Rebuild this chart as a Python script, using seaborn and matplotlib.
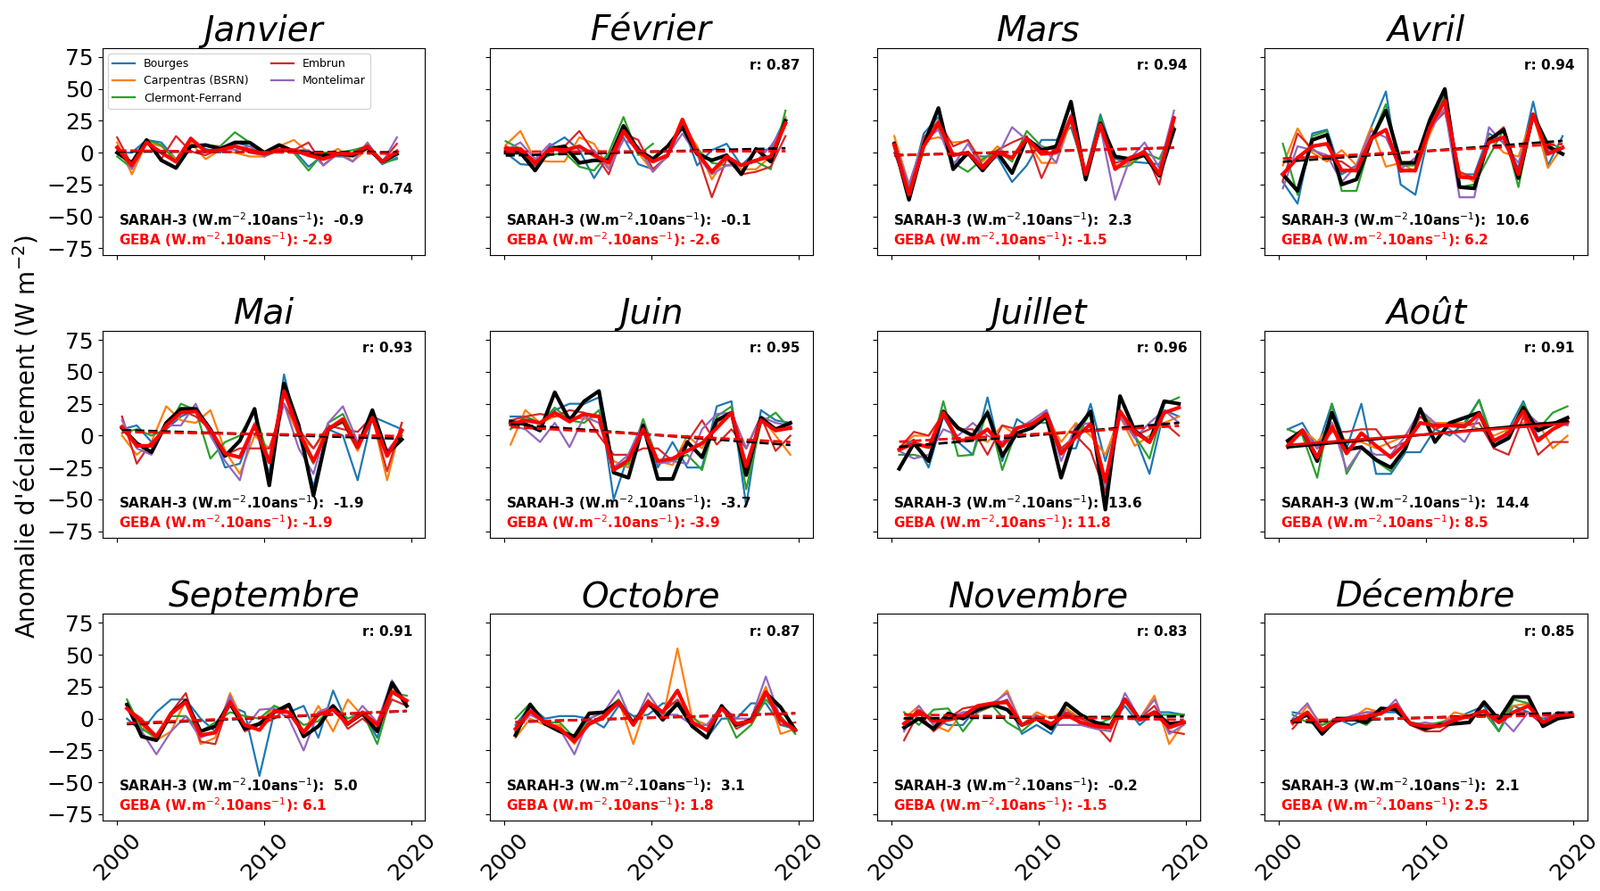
import numpy as np
import pandas as pd
import matplotlib
matplotlib.use("Agg")
import matplotlib.pyplot as plt
import seaborn as sns

MONTHS = ["Janvier", "Février", "Mars", "Avril", "Mai", "Juin",
          "Juillet", "Août", "Septembre", "Octobre", "Novembre", "Décembre"]
YEARS = list(range(2000, 2020))
STATIONS = ["Bourges", "Carpentras (BSRN)", "Clermont-Ferrand", "Embrun", "Montelimar"]
R_VALUES = ["0.74", "0.87", "0.94", "0.94", "0.93", "0.95", "0.96", "0.91", "0.91", "0.87", "0.83", "0.85"]
SARAH_TREND = ["-0.9", "-0.1", "2.3", "10.6", "-1.9", "-3.7", "13.6", "14.4", "5.0", "3.1", "-0.2", "2.1"]
GEBA_TREND = ["-2.9", "-2.6", "-1.5", "6.2", "-1.9", "-3.9", "11.8", "8.5", "6.1", "1.8", "-1.5", "2.5"]
SIGNIFICANT = ["Août"]
nan = np.nan

SARAH = [
    [0, -8, 10, -6, -12, 5, 6, 3, 8, 8, 0, 6, 1, 0, -2, -1, -2, 4, -7, -1],
    [0, 0, -14, 3, 5, -8, -6, -6, 21, 2, -5, 5, 20, -1, -6, -2, -17, 3, -7, 25],
    [7, -37, 6, 35, -13, 0, -14, 0, -16, 11, 2, 5, 40, -21, 23, -3, -5, -2, -18, 18],
    [-17, -30, 10, 14, -25, -21, 10, 33, -8, -8, 26, 50, -27, -28, 10, 18, -20, 30, 5, -1],
    [6, -6, -13, 10, 21, 21, 5, -16, -4, 21, -39, 41, 8, -47, 5, 12, -9, 20, -14, -3],
    [11, 9, 4, 34, 12, 27, 35, -29, -33, 8, -34, -34, -5, -17, 12, 18, -31, 14, 5, 10],
    [-26, -6, -20, 19, 6, 0, 18, -16, 2, 6, 15, -33, 4, 19, -58, 31, 4, -5, 27, 25],
    [-4, 4, -20, 18, -11, -9, -19, -25, -10, 21, -5, 10, 14, 18, -8, -2, 22, 4, 9, 14],
    [11, -14, -17, 4, 14, -10, -6, 12, -8, -4, 5, 11, -14, -6, 10, -4, 4, -10, 28, 10],
    [-13, 11, -4, -10, -14, 4, 5, 13, -4, 13, -1, 12, -6, -15, 10, -5, -1, 20, 9, -9],
    [-7, 0, -8, 4, 0, 7, 11, 7, -5, 0, -8, 12, 3, -3, -6, 15, -1, 5, -4, -3],
    [-2, 3, -12, 0, 0, -3, 8, 7, -4, -8, -5, -4, -3, 13, -1, 17, 17, -6, 0, 2],
]
GEBA = [
    [4, -10, 8, 0, -7, 11, 1, 2, 5, 2, -1, 2, 2, -2, -5, -1, -1, 5, -7, 1],
    [3, 3, -8, 3, 2, 5, -2, -8, 17, 1, -7, -2, 26, 0, -15, -3, -10, -6, -3, 23],
    [6, -33, 5, 23, -2, 0, -12, 0, -4, 11, -1, 0, 28, -17, 22, -13, -4, 0, -17, 27],
    [-17, -4, 5, 7, -14, -14, 11, 18, -14, -14, 20, 41, -19, -20, 8, 12, -17, 30, -1, 4],
    [7, -8, -8, 8, 18, 19, 4, -14, -17, 8, -21, 35, 3, -20, 5, 13, -9, 14, -16, 4],
    [9, 12, 10, 18, 11, 17, 15, -27, -19, 5, -20, -18, -12, -6, 6, 18, -24, 12, 4, 6],
    [-11, -6, -9, 18, -4, -3, 5, -8, 6, 9, 17, -14, -1, 9, -36, 19, 3, -5, 18, 22],
    [-8, 4, -17, 7, -14, 2, -8, -17, -6, 10, 8, 8, 7, 17, -4, 2, 19, -4, 5, 11],
    [8, -3, -14, 4, 13, -13, -11, 13, -5, -9, 6, 5, -11, 3, 7, -4, 5, -5, 21, 14],
    [-8, 6, -3, -8, -18, -4, 2, 13, -5, 13, 5, 22, -3, -9, 8, -4, -2, 21, -1, -9],
    [-4, 6, -2, -1, 2, 10, 12, 13, -5, 0, -4, 3, -3, -6, -7, 15, -1, 5, -7, -3],
    [-3, 5, -9, -1, 0, 2, 4, 11, -4, -6, -6, -1, 2, 6, -3, 5, 10, -3, 3, 3],
]
BOURGES = [
    [0, 0, 10, 8, -5, 10, 3, 0, 8, 5, 0, 3, 2, -11, -2, -3, -3, 4, -9, -4],
    [0, -9, -10, 5, 12, 2, -20, -2, 12, -9, -13, -3, 22, -10, 2, 7, -10, 1, 3, 27],
    [0, -30, 15, 28, -8, -2, -3, -3, -23, -10, 10, 10, 20, -15, 30, -5, -7, -8, -9, 20],
    [-23, -40, 15, 18, -17, -10, 20, 48, -25, -33, 20, 45, -17, -17, 15, 8, -12, 40, -10, 13],
    [5, 8, -5, 5, 15, 20, 5, -25, -22, 8, -30, 48, 0, -40, 5, 0, -35, 15, 10, 5],
    [15, 15, 10, 20, 25, 25, 30, -50, -15, 10, -25, -5, -25, -25, 23, 27, -55, 20, 12, 10],
    [-10, -3, -25, 15, -5, -15, 30, -20, 13, 5, 20, -10, -10, 25, -20, 20, 0, -30, 20, 15],
    [5, 10, -10, 25, -10, 25, -30, -30, -13, -13, 5, 0, 10, 28, -10, 5, 27, -2, 5, 12],
    [0, -10, 5, 15, 15, 0, -10, 10, 5, -45, 5, 5, 10, -15, 22, -5, 5, -15, 25, 10],
    [-5, 10, 0, 2, 2, 0, -7, 10, 2, 3, 12, 12, -5, -15, 0, 0, 12, 12, -5, -8],
    [0, 5, 0, -5, -5, 10, 10, 15, -12, -5, -12, 8, -5, -3, -5, 10, -5, 5, 5, 3],
    [5, 3, -5, 0, -5, 0, 5, 5, -3, -5, -5, 0, 5, 10, -10, 10, 5, 0, 3, 5],
]
CARPENTRAS = [
    [8, -17, 8, 5, -5, 8, -5, 2, 0, -3, -3, 5, 10, 0, -3, 3, -7, 3, -8, 0],
    [6, 17, -6, -7, -7, 12, 7, -12, 15, 0, -15, -2, 22, 5, -21, -3, -13, -13, -3, 28],
    [13, -25, 10, 12, 8, 9, -7, 5, -5, 10, -8, -8, 25, -15, 22, -10, -8, -2, -15, 28],
    [-10, 19, 0, -7, 2, -10, 20, -11, -8, -15, 15, 40, -15, -23, 12, 0, -3, 30, -12, 5],
    [0, -15, -5, 23, 12, 10, 20, -12, -30, 0, -10, 25, 0, -10, 5, 10, -12, 15, -35, 10],
    [-7, 20, 10, 15, 15, 13, 15, -20, -25, 10, -20, -23, 0, -10, 10, 18, -10, 15, 0, -15],
    [-10, 0, 0, 17, 5, 0, -5, 8, 0, 8, 15, -5, 10, 0, -15, 15, -8, 0, 10, 15],
    [-5, 5, -5, 10, -5, -5, -10, -5, 0, 15, 10, 10, 10, 5, 0, 5, 10, 10, -10, 0],
    [8, -5, -17, -10, 15, -20, -15, 20, -5, -5, 10, 5, -10, 10, -10, 15, 2, -5, 25, 10],
    [-15, 0, -5, -5, -20, 5, 5, 15, -20, 15, 0, 55, 0, -5, 10, -5, 0, 25, -12, -8],
    [0, 10, -5, -10, 5, 5, 10, 22, -5, 5, 0, 8, 0, -5, -10, 15, 0, 18, -20, -3],
    [-5, 10, -5, 0, 0, 8, 5, 10, -3, -8, -5, 5, 2, 5, 0, 10, 12, -3, 5, 3],
]
CLERMONT = [
    [-3, -12, 10, 6, -7, 5, 6, 5, 16, 8, -3, 2, 0, -14, 0, 0, 2, 5, -8, -5],
    [9, 3, -7, -2, 0, -11, -14, 0, 28, -2, 7, nan, nan, 3, -8, -10, -9, -7, -13, 33],
    [5, -28, 12, 20, -8, -15, -5, 2, -7, 17, 5, 2, 25, -22, 28, -12, -10, 0, -5, 20],
    [7, -33, 13, 17, -30, -30, 10, 38, -10, -10, 25, 43, -27, -25, -3, 18, -27, 30, 8, 3],
    [2, 5, 0, 5, 25, 20, -18, -5, 0, 20, -20, 38, 0, -22, 10, 17, -8, 20, -15, 0],
    [5, 15, 10, 22, 12, 10, 20, -27, -22, 13, -20, -20, -15, -27, 15, 23, -42, 10, 18, 5],
    [-15, -15, -18, 27, -16, -15, 20, -27, 5, 10, 10, -15, 0, 18, -45, 20, 0, -18, 25, 30],
    [5, 0, -33, 25, -30, -10, -20, -28, -10, 20, 5, 10, 8, 28, -5, 0, 25, 5, 18, 23],
    [15, -8, -15, 2, 2, -10, -3, 5, 2, 0, 10, 5, -5, -2, 10, 0, 5, -20, 20, 18],
    [0, 12, -3, -3, -15, 0, 5, 15, -2, 13, 3, 10, 2, -10, 10, -15, -5, 15, 2, -12],
    [5, -5, 7, 8, -10, 5, 10, -3, -10, 0, -5, 3, 0, -5, 0, 15, 0, 3, 3, 3],
    [3, -3, -5, 0, 0, -5, 5, 10, -3, -5, -3, 0, 2, 5, -10, 15, 12, -3, 5, 3],
]
EMBRUN = [
    [12, -10, 8, -5, 13, 1, -2, 3, 5, 0, -2, 3, 2, 8, -10, 0, -3, 6, -7, 7],
    [5, 0, -10, 3, 5, 17, 0, -17, 15, 10, -13, -3, 25, 0, -35, -5, -17, -15, -11, 13],
    [8, -35, 12, 25, 5, 10, -10, 2, 8, 13, -20, 5, 38, -18, 22, -8, -5, 2, -25, 28],
    [-22, 15, 3, -5, -7, -15, 13, 18, -15, -13, 20, 32, -15, -20, 10, 20, -18, 30, 0, 3],
    [15, -22, -5, 5, 20, 15, 5, -15, -10, -10, -10, 25, 5, -10, 8, 5, 3, 15, -28, 10],
    [12, 15, 17, 15, 20, 18, 0, -15, -15, -10, -10, -20, -5, 12, -7, 5, -10, 15, -12, 0],
    [-10, 3, 0, 17, 5, 5, -15, 8, 5, 10, 15, -10, 0, -12, -45, 15, 0, 5, 10, 0],
    [-10, 5, -10, 3, 3, 5, 5, -10, -5, 15, 5, 10, 8, 10, -10, -15, 15, -15, -5, -5],
    [8, 0, -15, 5, 20, -18, -20, 15, -10, -5, 0, 10, -10, 5, 10, -8, 0, -10, 15, 10],
    [-10, 5, -3, -10, -15, -5, 0, 12, -5, 10, 5, 15, -2, -10, 10, -8, -2, 20, -5, -3],
    [-17, 5, -10, 0, 8, 10, 12, 12, -5, 0, -5, 5, 0, -5, -18, 15, 0, 10, -10, -12],
    [-8, 5, -10, -2, 2, 5, 5, 8, -5, -10, -10, -2, 2, 3, 0, 5, 5, -5, 5, 3],
]
MONTELIMAR = [
    [5, -13, 8, 0, -8, 12, 0, 5, 2, 5, -3, 3, 2, 2, -10, -1, -7, 8, -8, 12],
    [2, 8, -5, 7, 0, 1, 2, -13, 10, 5, -15, -2, 15, -2, -17, -10, -10, -7, 5, 22],
    [8, -25, 10, 18, -10, 7, -12, -3, 20, 10, 5, -8, 30, -18, 20, -37, -5, 8, -12, 33],
    [-28, 5, 2, -2, -23, -10, 17, 12, -13, -4, 18, 35, -35, -35, 20, 7, -8, 28, 2, 3],
    [12, -10, -15, 8, 8, 25, 0, -20, -35, 10, -20, 25, -10, -30, 10, 23, -5, 15, -12, 2],
    [8, 5, -5, 10, -9, 15, 10, -25, -15, 10, -22, -20, -22, 5, 17, 18, -10, 15, 10, 8],
    [-12, -18, -15, 5, 0, 10, 0, -5, 5, 12, 20, -20, 8, 10, -40, 15, -2, 10, 20, 10],
    [-5, 5, -10, 10, -27, -10, -15, -15, 0, 20, 10, 5, -5, 15, -5, 0, 20, 10, 10, 8],
    [8, -10, -28, -10, 2, -15, -10, 18, -8, 7, 8, 0, -25, 5, 10, -5, 10, -3, 30, 12],
    [-10, 3, -3, -8, -28, 0, 5, 22, -5, 20, 3, 3, -5, -5, 10, 0, 0, 33, 0, -8],
    [-10, 10, -5, 0, 5, 5, 12, 20, -5, 3, -5, -5, -5, -8, -10, 20, 0, 15, -12, -5],
    [0, 12, -8, -3, 2, 5, 3, 15, -5, -3, -5, 2, 0, 5, 2, -10, 5, -2, 5, 5],
]

STATION_DATA = [BOURGES, CARPENTRAS, CLERMONT, EMBRUN, MONTELIMAR]
STATION_COLORS = ["#1f77b4", "#ff7f0e", "#2ca02c", "#d62728", "#9467bd"]

plt.rcParams.update(matplotlib.rcParamsDefault)
plt.rcParams["font.family"] = ["DejaVu Sans"]

fig, axes = plt.subplots(3, 4, figsize=(17.93, 9.99), dpi=100, sharex=True, sharey=True)
fig.subplots_adjust(left=0.064, right=0.992, top=0.946, bottom=0.079, wspace=0.2, hspace=0.37)

years = np.array(YEARS, dtype=float)
for m, name in enumerate(MONTHS):
    ax = axes.flat[m]
    x = years + m / 12.0
    for s, (st, col) in enumerate(zip(STATIONS, STATION_COLORS)):
        vals = np.array(STATION_DATA[s][m], dtype=float)
        df = pd.DataFrame({"x": x, "y": vals})
        ok = ~np.isnan(vals)
        df["seg"] = np.cumsum(~ok)
        df = df[ok]
        for k, (_, g) in enumerate(df.groupby("seg")):
            sns.lineplot(data=g, x="x", y="y", ax=ax, color=col, lw=1.6,
                         label=st if (m == 0 and k == 0) else None, legend=False)
    sarah = np.array(SARAH[m], dtype=float)
    geba = np.array(GEBA[m], dtype=float)
    sns.lineplot(x=x, y=sarah, ax=ax, color="black", lw=3, legend=False)
    sns.lineplot(x=x, y=geba, ax=ax, color="red", lw=3, legend=False)
    ls = "-" if name in SIGNIFICANT else "--"
    sns.regplot(x=x, y=sarah, ax=ax, scatter=False, ci=None, truncate=True,
                line_kws=dict(color="black", lw=2, ls=ls))
    sns.regplot(x=x, y=geba, ax=ax, scatter=False, ci=None, truncate=True,
                line_kws=dict(color="red", lw=2, ls=ls))

    ax.set_title(name, fontsize=28, style="italic")
    ax.set_xlabel("")
    ax.set_ylabel("")
    ax.set_ylim(-80, 82)
    ax.set_xlim(1999.0, 2020.92)
    ax.set_yticks([-75, -50, -25, 0, 25, 50, 75])
    ax.set_xticks([2000, 2010, 2020])
    ax.tick_params(axis="both", labelsize=18)

    ry = 0.315 if m == 0 else 0.915
    ax.text(0.96, ry, "r: " + R_VALUES[m], transform=ax.transAxes, ha="right",
            va="center", fontsize=11, fontweight="bold", color="black")
    ax.text(0.05, 0.17, r"SARAH-3 (W.m$^{-2}$.10ans$^{-1}$):  " + SARAH_TREND[m],
            transform=ax.transAxes, ha="left", va="center", fontsize=11,
            fontweight="bold", color="black")
    ax.text(0.05, 0.075, r"GEBA (W.m$^{-2}$.10ans$^{-1}$): " + GEBA_TREND[m],
            transform=ax.transAxes, ha="left", va="center", fontsize=11,
            fontweight="bold", color="red")

for ax in axes[-1, :]:
    plt.setp(ax.get_xticklabels(), rotation=45)

axes[0, 0].legend(loc="upper left", ncol=2, fontsize=9, frameon=True)

fig.text(0.016, 0.51, r"Anomalie d'éclairement (W m$^{-2}$)", rotation=90,
         ha="center", va="center", fontsize=20)

fig.savefig("out.png", dpi=100)
